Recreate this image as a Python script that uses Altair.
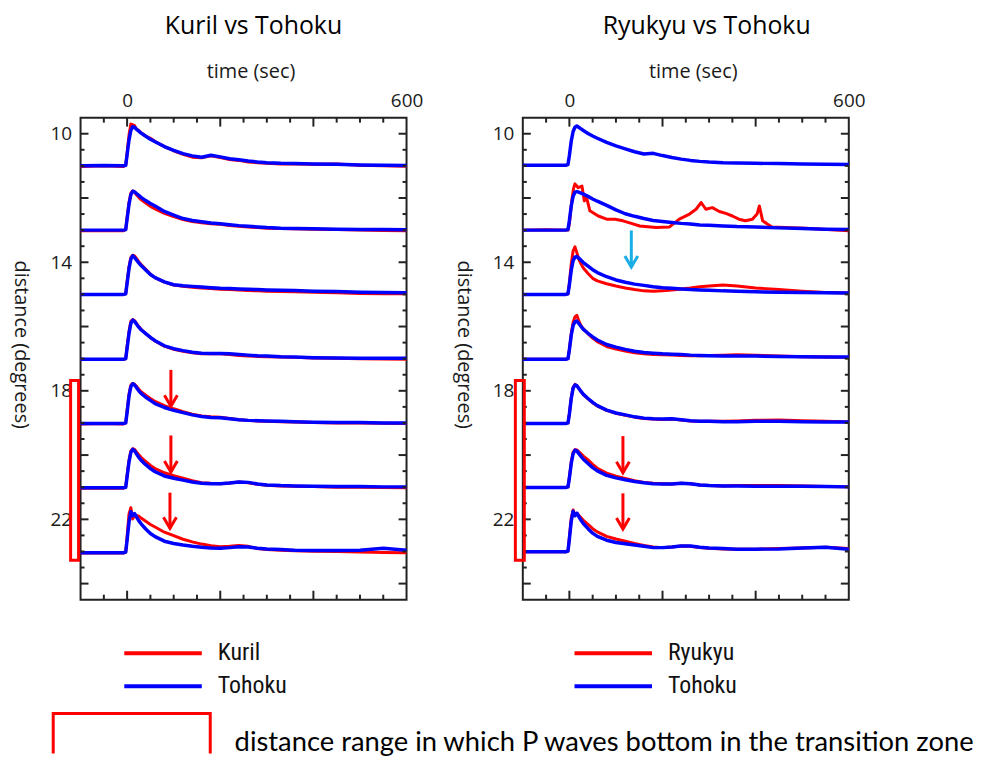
import altair as alt
import pandas as pd

# ---------------- data ----------------
TIME = [-100, -50, -8, -3, 0, 4, 8, 12, 16, 20, 25, 30, 40, 50, 60, 80, 100, 120,
        140, 160, 180, 200, 220, 240, 260, 280, 300, 330, 360, 400, 450, 500, 550, 600]

DISTANCES = [10, 12, 14, 16, 18, 20, 22]
BASELINES_LEFT = [11.0, 13.0, 15.0, 17.02, 19.02, 21.02, 23.04]
BASELINES_RIGHT = [10.98, 13.0, 15.0, 17.02, 19.02, 21.01, 23.01]

# amplitudes (degrees above each trace baseline), left panel
KURIL_10 = [-0.02, 0.0, -0.02, 0.02, 0.4, 0.95, 1.3, 1.28, 1.25, 1.15, 1.1, 1.03, 0.93, 0.86, 0.76, 0.6, 0.47, 0.36, 0.27, 0.25, 0.31, 0.26, 0.2, 0.17, 0.12, 0.1, 0.08, 0.06, 0.06, 0.05, 0.06, 0.02, 0.0, -0.01]
KURIL_12 = [-0.02, -0.01, -0.02, 0.02, 0.4, 0.85, 1.15, 1.22, 1.18, 1.1, 1.02, 0.95, 0.84, 0.74, 0.66, 0.52, 0.42, 0.33, 0.27, 0.23, 0.2, 0.18, 0.14, 0.12, 0.1, 0.08, 0.06, 0.05, 0.04, 0.03, 0.02, 0.0, -0.01, -0.02]
KURIL_14 = [0.0, 0.0, 0.0, 0.02, 0.4, 0.85, 1.15, 1.22, 1.2, 1.12, 1.02, 0.93, 0.78, 0.63, 0.52, 0.38, 0.29, 0.25, 0.22, 0.2, 0.18, 0.16, 0.15, 0.14, 0.12, 0.11, 0.1, 0.09, 0.08, 0.07, 0.05, 0.03, 0.02, 0.02]
KURIL_16 = [-0.01, -0.01, -0.01, 0.02, 0.4, 0.85, 1.18, 1.24, 1.2, 1.12, 1.02, 0.93, 0.8, 0.68, 0.57, 0.41, 0.31, 0.25, 0.2, 0.17, 0.17, 0.17, 0.15, 0.12, 0.1, 0.09, 0.08, 0.07, 0.06, 0.04, 0.03, 0.02, 0.01, 0.0]
KURIL_18 = [-0.01, 0.0, -0.01, 0.02, 0.4, 0.9, 1.2, 1.25, 1.22, 1.16, 1.07, 0.99, 0.88, 0.78, 0.69, 0.56, 0.46, 0.37, 0.29, 0.24, 0.21, 0.2, 0.16, 0.12, 0.1, 0.08, 0.07, 0.06, 0.05, 0.03, 0.02, 0.02, 0.01, 0.0]
KURIL_20 = [-0.01, -0.01, -0.01, 0.02, 0.4, 0.85, 1.15, 1.22, 1.2, 1.12, 1.03, 0.95, 0.82, 0.7, 0.6, 0.47, 0.38, 0.3, 0.22, 0.16, 0.14, 0.13, 0.15, 0.18, 0.16, 0.11, 0.08, 0.06, 0.05, 0.04, 0.02, 0.02, 0.01, 0.0]
KURIL_22 = [-0.01, -0.01, -0.01, 0.02, 0.5, 1.2, 1.4, 1.05, 1.18, 1.16, 1.14, 1.08, 0.98, 0.88, 0.8, 0.64, 0.53, 0.42, 0.34, 0.27, 0.22, 0.19, 0.2, 0.23, 0.2, 0.13, 0.1, 0.08, 0.06, 0.05, 0.04, 0.02, 0.01, 0.0]

TOHOKU_L10 = [0.0, 0.01, 0.0, 0.02, 0.35, 0.8, 1.1, 1.22, 1.2, 1.14, 1.08, 1.02, 0.92, 0.83, 0.75, 0.6, 0.48, 0.38, 0.31, 0.27, 0.33, 0.28, 0.22, 0.19, 0.15, 0.12, 0.1, 0.08, 0.07, 0.06, 0.05, 0.03, 0.02, 0.01]
TOHOKU_L12 = [0.0, 0.0, 0.0, 0.02, 0.35, 0.8, 1.1, 1.21, 1.19, 1.14, 1.08, 1.02, 0.92, 0.83, 0.75, 0.58, 0.47, 0.36, 0.3, 0.26, 0.22, 0.2, 0.17, 0.14, 0.12, 0.1, 0.08, 0.06, 0.05, 0.04, 0.03, 0.02, 0.02, 0.01]
TOHOKU_L14 = [0.0, 0.0, 0.0, 0.02, 0.35, 0.8, 1.1, 1.2, 1.15, 1.07, 0.98, 0.9, 0.76, 0.62, 0.52, 0.39, 0.3, 0.27, 0.25, 0.23, 0.21, 0.19, 0.18, 0.17, 0.16, 0.15, 0.14, 0.13, 0.12, 0.1, 0.09, 0.07, 0.06, 0.05]
TOHOKU_L16 = [0.0, 0.0, 0.0, 0.02, 0.35, 0.8, 1.12, 1.22, 1.18, 1.1, 1.0, 0.92, 0.8, 0.68, 0.58, 0.42, 0.33, 0.27, 0.22, 0.19, 0.18, 0.18, 0.17, 0.15, 0.13, 0.11, 0.1, 0.08, 0.07, 0.05, 0.04, 0.03, 0.03, 0.03]
TOHOKU_L18 = [0.0, 0.0, 0.0, 0.02, 0.35, 0.85, 1.15, 1.24, 1.2, 1.12, 1.02, 0.94, 0.82, 0.72, 0.62, 0.5, 0.41, 0.34, 0.27, 0.22, 0.19, 0.18, 0.15, 0.12, 0.1, 0.09, 0.08, 0.07, 0.06, 0.04, 0.03, 0.03, 0.02, 0.02]
TOHOKU_L20 = [0.0, 0.0, 0.0, 0.02, 0.35, 0.8, 1.1, 1.2, 1.15, 1.06, 0.95, 0.86, 0.72, 0.6, 0.5, 0.37, 0.3, 0.24, 0.18, 0.14, 0.13, 0.13, 0.15, 0.18, 0.17, 0.12, 0.09, 0.07, 0.06, 0.05, 0.04, 0.04, 0.03, 0.03]
TOHOKU_L22 = [0.0, 0.0, 0.0, 0.02, 0.4, 0.95, 1.28, 1.15, 1.22, 1.12, 1.0, 0.9, 0.74, 0.6, 0.5, 0.36, 0.29, 0.24, 0.2, 0.17, 0.15, 0.14, 0.16, 0.19, 0.18, 0.14, 0.12, 0.1, 0.08, 0.07, 0.07, 0.08, 0.14, 0.08]

# right panel (no Ryukyu trace at 10 degrees)
RYUKYU_12_TIME = [-100, -50, -3, 0, 5, 9, 12, 19, 27, 32, 37, 44, 62, 80, 98, 115, 133, 151, 186, 215, 236, 258, 272, 283, 293, 307, 322, 336, 350, 364, 378, 393, 403, 408, 415, 425, 435, 506, 600]
RYUKYU_12 = [0.0, 0.01, 0.0, 0.2, 0.9, 1.3, 1.44, 1.32, 1.37, 0.91, 1.01, 0.6, 0.44, 0.34, 0.34, 0.29, 0.21, 0.13, 0.08, 0.1, 0.34, 0.5, 0.65, 0.86, 0.65, 0.7, 0.58, 0.52, 0.44, 0.34, 0.29, 0.34, 0.5, 0.75, 0.29, 0.19, 0.1, 0.06, -0.02]
RYUKYU_14 = [0.0, 0.0, 0.0, 0.02, 0.35, 0.95, 1.35, 1.48, 1.3, 1.1, 0.95, 0.82, 0.65, 0.5, 0.42, 0.33, 0.26, 0.2, 0.15, 0.11, 0.1, 0.11, 0.14, 0.17, 0.2, 0.24, 0.26, 0.29, 0.26, 0.2, 0.15, 0.1, 0.06, 0.04]
RYUKYU_16 = [0.0, 0.0, 0.0, 0.02, 0.3, 0.8, 1.15, 1.32, 1.37, 1.2, 1.05, 0.95, 0.8, 0.66, 0.55, 0.4, 0.32, 0.26, 0.2, 0.17, 0.15, 0.14, 0.13, 0.12, 0.11, 0.11, 0.12, 0.13, 0.14, 0.13, 0.1, 0.08, 0.07, 0.06]
RYUKYU_18 = [0.0, 0.0, 0.0, 0.02, 0.3, 0.8, 1.12, 1.22, 1.18, 1.1, 1.0, 0.91, 0.77, 0.65, 0.55, 0.41, 0.32, 0.26, 0.2, 0.16, 0.14, 0.13, 0.14, 0.11, 0.08, 0.07, 0.07, 0.07, 0.08, 0.1, 0.11, 0.09, 0.07, 0.05]
RYUKYU_20 = [0.0, 0.0, 0.0, 0.02, 0.3, 0.8, 1.1, 1.18, 1.17, 1.12, 1.05, 0.98, 0.86, 0.72, 0.6, 0.45, 0.35, 0.28, 0.21, 0.16, 0.13, 0.12, 0.11, 0.13, 0.12, 0.08, 0.06, 0.05, 0.06, 0.06, 0.06, 0.05, 0.03, 0.02]
RYUKYU_22 = [0.0, 0.0, 0.0, 0.02, 0.45, 1.05, 1.3, 1.15, 1.2, 1.14, 1.06, 0.98, 0.85, 0.72, 0.62, 0.48, 0.4, 0.33, 0.26, 0.2, 0.15, 0.13, 0.15, 0.18, 0.17, 0.13, 0.11, 0.09, 0.08, 0.08, 0.1, 0.12, 0.14, 0.1]

TOHOKU_R10 = [0.0, 0.0, 0.0, 0.02, 0.3, 0.75, 1.05, 1.18, 1.22, 1.18, 1.13, 1.08, 0.99, 0.91, 0.84, 0.71, 0.6, 0.51, 0.42, 0.35, 0.37, 0.3, 0.24, 0.19, 0.15, 0.12, 0.1, 0.08, 0.07, 0.06, 0.05, 0.04, 0.03, 0.02]
TOHOKU_R12 = [0.0, 0.0, 0.0, 0.02, 0.3, 0.75, 1.05, 1.18, 1.2, 1.18, 1.15, 1.12, 1.05, 0.97, 0.9, 0.77, 0.63, 0.51, 0.43, 0.36, 0.3, 0.27, 0.24, 0.21, 0.19, 0.16, 0.15, 0.13, 0.11, 0.1, 0.07, 0.05, 0.03, 0.02]
TOHOKU_R14 = [0.0, 0.0, 0.0, 0.02, 0.3, 0.75, 1.05, 1.16, 1.18, 1.13, 1.06, 0.99, 0.88, 0.77, 0.68, 0.55, 0.45, 0.38, 0.32, 0.28, 0.24, 0.21, 0.19, 0.17, 0.15, 0.14, 0.13, 0.11, 0.1, 0.08, 0.07, 0.06, 0.05, 0.04]
TOHOKU_R16 = [0.0, 0.0, 0.0, 0.02, 0.3, 0.75, 1.05, 1.17, 1.19, 1.12, 1.02, 0.93, 0.81, 0.7, 0.6, 0.46, 0.38, 0.31, 0.25, 0.21, 0.19, 0.17, 0.16, 0.15, 0.13, 0.12, 0.11, 0.1, 0.1, 0.1, 0.09, 0.08, 0.07, 0.07]
TOHOKU_R18 = [0.0, 0.0, 0.0, 0.02, 0.3, 0.78, 1.1, 1.2, 1.18, 1.1, 1.0, 0.91, 0.78, 0.66, 0.56, 0.42, 0.33, 0.27, 0.21, 0.17, 0.15, 0.14, 0.15, 0.12, 0.09, 0.07, 0.07, 0.06, 0.06, 0.07, 0.07, 0.06, 0.05, 0.05]
TOHOKU_R20 = [0.0, 0.0, 0.0, 0.02, 0.3, 0.75, 1.05, 1.16, 1.14, 1.06, 0.97, 0.88, 0.75, 0.62, 0.52, 0.38, 0.3, 0.24, 0.19, 0.15, 0.12, 0.11, 0.11, 0.13, 0.12, 0.08, 0.06, 0.05, 0.05, 0.04, 0.04, 0.04, 0.03, 0.02]
TOHOKU_R22 = [0.0, 0.0, 0.0, 0.02, 0.4, 0.95, 1.26, 1.12, 1.2, 1.1, 0.98, 0.88, 0.72, 0.58, 0.48, 0.36, 0.29, 0.25, 0.21, 0.17, 0.13, 0.13, 0.15, 0.18, 0.18, 0.14, 0.12, 0.1, 0.08, 0.08, 0.09, 0.12, 0.14, 0.08]

# arrows (time, start distance, tip distance)
ARROW_LEFT_T = [94, 94, 92]
ARROW_LEFT_Y0 = [17.35, 19.39, 21.17]
ARROW_LEFT_Y1 = [18.48, 20.53, 22.28]
ARROW_RIGHT_T = [115, 115]
ARROW_RIGHT_Y0 = [19.41, 21.19]
ARROW_RIGHT_Y1 = [20.55, 22.3]
CYAN_T = [133]
CYAN_Y0 = [13.01]
CYAN_Y1 = [14.15]

# transition-zone distance range (red boxes)
BOX_Y0 = [17.68]
BOX_Y1 = [23.27]
NOTE_TEXT = "distance range in which P waves bottom in the transition zone"

X_LABELS = [0, 600]
Y_LABELS = [10, 14, 18, 22]
X_MAJOR_TICKS = [0, 200, 400]
X_MINOR_TICKS = [-50, 50, 100, 150, 250, 300, 350, 450, 500, 550]
Y_MAJOR_TICKS = [10, 12, 14, 16, 18, 20, 22, 24]
Y_MINOR_TICKS = [10.5, 11, 11.5, 12.5, 13, 13.5, 14.5, 15, 15.5, 16.5, 17, 17.5,
                 18.5, 19, 19.5, 20.5, 21, 21.5, 22.5, 23, 23.5]

# ---------------- styling ----------------
RED = "#ff0000"
BLUE = "#0000ff"
CYAN = "#1aaee6"
FRAME = "#222222"
W, H = 328, 485
AXIS_FONT = "Open Sans"
LEGEND_FONT = "Liberation Sans Narrow, Roboto Condensed, DejaVu Sans Condensed, Liberation Sans"
NOTE_FONT = "Lato"
HEAD = "M-1,-1.7L0,0L1,-1.7"
LEGEND_LINE = "M-3.9,0H3.9"

XS = alt.Scale(domain=[-100, 600], nice=False, zero=False)
YS = alt.Scale(domain=[9.5, 24.5], reverse=True, nice=False, zero=False)

X_AXIS = alt.Axis(orient="top", values=X_LABELS, title="time (sec)", ticks=False, tickSize=0,
                  domain=False, grid=False, labelPadding=7.5, labelFlush=False,
                  labelOverlap=False, titleX=171, titleY=-46, titleBaseline="middle")
Y_AXIS = alt.Axis(orient="left", values=Y_LABELS, title="distance (degrees)", ticks=False,
                  tickSize=0, domain=False, grid=False, labelPadding=9, titleAngle=90,
                  titleX=-60, titleY=228, titleAlign="center", titleBaseline="middle")


def traces(times_list, amps_list, bases, source):
    rows = []
    for times, amps, base, dist in zip(times_list, amps_list, bases, DISTANCES):
        if amps is None:
            continue
        assert len(times) == len(amps), (source, dist)
        for t, a in zip(times, amps):
            rows.append({"t": t, "y": round(base - a, 4), "source": source,
                         "trace": f"{source}-{dist}"})
    return pd.DataFrame(rows)


left_red = traces([TIME] * 7,
                  [KURIL_10, KURIL_12, KURIL_14, KURIL_16, KURIL_18, KURIL_20, KURIL_22],
                  BASELINES_LEFT, "Kuril")
left_blue = traces([TIME] * 7,
                   [TOHOKU_L10, TOHOKU_L12, TOHOKU_L14, TOHOKU_L16, TOHOKU_L18, TOHOKU_L20, TOHOKU_L22],
                   BASELINES_LEFT, "Tohoku")
right_red = traces([TIME, RYUKYU_12_TIME, TIME, TIME, TIME, TIME, TIME],
                   [None, RYUKYU_12, RYUKYU_14, RYUKYU_16, RYUKYU_18, RYUKYU_20, RYUKYU_22],
                   BASELINES_RIGHT, "Ryukyu")
right_blue = traces([TIME] * 7,
                    [TOHOKU_R10, TOHOKU_R12, TOHOKU_R14, TOHOKU_R16, TOHOKU_R18, TOHOKU_R20, TOHOKU_R22],
                    BASELINES_RIGHT, "Tohoku")


def xenc(field):
    return alt.X(field, type="quantitative", scale=XS, axis=X_AXIS)


def yenc(field):
    return alt.Y(field, type="quantitative", scale=YS, axis=Y_AXIS)


def tick_layers():
    layers = []
    for vals, L in ((X_MAJOR_TICKS, 9), (X_MINOR_TICKS, 5)):
        df = pd.DataFrame({"v": vals})
        layers.append(alt.Chart(df).mark_rule(color=FRAME, strokeWidth=2)
                      .encode(x=xenc("v"), y=alt.value(0), y2=alt.value(L)))
        layers.append(alt.Chart(df).mark_rule(color=FRAME, strokeWidth=2)
                      .encode(x=xenc("v"), y=alt.value(H), y2=alt.value(H - L)))
    for vals, L in ((Y_MAJOR_TICKS, 8), (Y_MINOR_TICKS, 4)):
        df = pd.DataFrame({"v": vals})
        layers.append(alt.Chart(df).mark_rule(color=FRAME, strokeWidth=2)
                      .encode(y=yenc("v"), x=alt.value(0), x2=alt.value(L)))
        layers.append(alt.Chart(df).mark_rule(color=FRAME, strokeWidth=2)
                      .encode(y=yenc("v"), x=alt.value(W), x2=alt.value(W - L)))
    return layers


def arrow_layers(ts, y0s, y1s, color):
    df = pd.DataFrame({"t": ts, "y0": y0s, "y1": y1s})
    shaft = alt.Chart(df).mark_rule(color=color, strokeWidth=3).encode(
        x=xenc("t"), y=yenc("y0"), y2="y1:Q")
    head = alt.Chart(df).mark_point(shape=HEAD, filled=False, size=169, strokeWidth=3,
                                    color=color, opacity=1, strokeJoin="miter").encode(
        x=xenc("t"), y=yenc("y1"))
    return [shaft, head]


def panel(red_df, blue_df, red_name, title, title_dx, legend_x, arrows, box_x, note):
    cscale = alt.Scale(domain=[red_name, "Tohoku"], range=[RED, BLUE])
    legend = alt.Legend(orient="none", legendX=legend_x, legendY=527, title=None,
                        symbolType=LEGEND_LINE, symbolSize=400, symbolStrokeWidth=4,
                        labelFont=LEGEND_FONT, labelFontSize=24, labelColor="#111111",
                        labelOffset=43, rowPadding=9, padding=0)
    red = alt.Chart(red_df).mark_line(strokeWidth=3, strokeJoin="round").encode(
        x=xenc("t"), y=yenc("y"),
        color=alt.Color("source:N", scale=cscale, legend=legend),
        detail="trace:N")
    blue = alt.Chart(blue_df).mark_line(strokeWidth=3.5, strokeJoin="round").encode(
        x=xenc("t"), y=yenc("y"),
        color=alt.Color("source:N", scale=cscale, legend=legend),
        detail="trace:N")
    box_df = pd.DataFrame({"y0": BOX_Y0, "y1": BOX_Y1, "note": [NOTE_TEXT]})
    if note:
        stroke = alt.Stroke("note:N", scale=alt.Scale(domain=[NOTE_TEXT], range=[RED]),
                            legend=alt.Legend(orient="none", legendX=-29, legendY=549,
                                              title=None, symbolType="M-1,0.13V-0.38H1V0.13",
                                              symbolSize=24964, symbolStrokeWidth=3,
                                              symbolFillColor="transparent",
                                              labelFont=NOTE_FONT, labelFontSize=27.5,
                                              labelColor="#000000", labelOffset=23,
                                              labelLimit=0, padding=0))
    else:
        stroke = alt.value(RED)
    box = alt.Chart(box_df).mark_rect(fill="transparent", strokeWidth=3).encode(
        x=alt.value(box_x[0]), x2=alt.value(box_x[1]),
        y=yenc("y0"), y2="y1:Q", stroke=stroke)
    layers = [red, blue] + tick_layers() + arrows + [box]
    return alt.layer(*layers).properties(
        width=W, height=H,
        title=alt.TitleParams(title, fontSize=25, font=AXIS_FONT, fontWeight="normal",
                              anchor="middle", dx=title_dx, offset=23, color="#000000"))


left = panel(left_red, left_blue, "Kuril", "Kuril vs Tohoku", 10, 71,
             arrow_layers(ARROW_LEFT_T, ARROW_LEFT_Y0, ARROW_LEFT_Y1, RED),
             (-10, -2), True)
right = panel(right_red, right_blue, "Ryukyu", "Ryukyu vs Tohoku", 21, 79,
              arrow_layers(ARROW_RIGHT_T, ARROW_RIGHT_Y0, ARROW_RIGHT_Y1, RED)
              + arrow_layers(CYAN_T, CYAN_Y0, CYAN_Y1, CYAN),
              (-7.5, 1.5), False)

chart = alt.hconcat(left, right, spacing=117, bounds="flush").resolve_scale(
    color="independent", stroke="independent"
).properties(
    padding={"left": 2, "top": 3, "right": 0, "bottom": 0}
).configure_view(
    stroke=FRAME, strokeWidth=2
).configure_axis(
    labelFont=AXIS_FONT, labelFontSize=19, labelColor="#1a1a1a",
    titleFont=AXIS_FONT, titleFontSize=20, titleFontWeight="normal", titleColor="#1a1a1a"
)

chart.save("out.html", embed_options={"renderer": "svg", "actions": False})
